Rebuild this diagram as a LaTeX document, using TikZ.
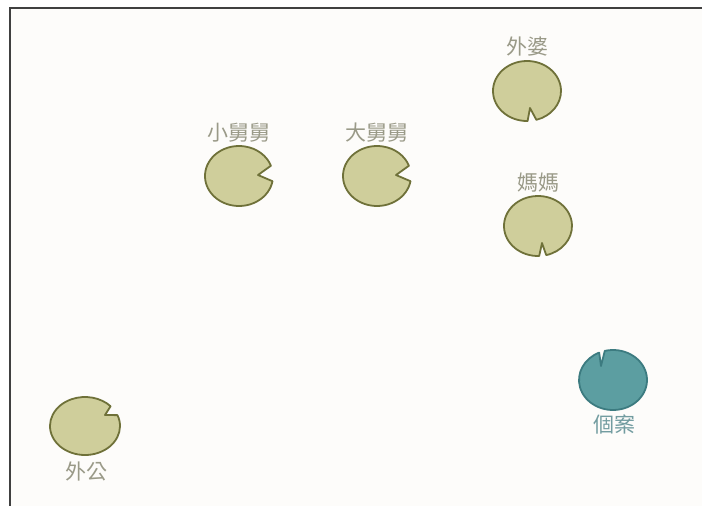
\documentclass[tikz,border=0pt]{standalone}
\usepackage{fontspec}
\newfontfamily\cjk{Noto Sans CJK TC}
\definecolor{pagebg}{HTML}{FDFCFA}
\definecolor{padfill}{HTML}{CFCE9B}
\definecolor{paddraw}{HTML}{6F7139}
\definecolor{casefill}{HTML}{5C9EA1}
\definecolor{casedraw}{HTML}{3C7B80}
\definecolor{lbltext}{HTML}{9A9A88}
\definecolor{casetext}{HTML}{729CA0}
\tikzset{
  pad/.style={fill=padfill, draw=paddraw, line width=1.8pt, line join=round},
  casepad/.style={fill=casefill, draw=casedraw, line width=1.8pt, line join=round},
  lbl/.style={text=lbltext, font=\cjk\fontsize{21}{21}\selectfont, inner sep=0pt},
  caselbl/.style={lbl, text=casetext}
}
\begin{document}
\begin{tikzpicture}[x=1pt, y=-1pt]
    \useasboundingbox (0,0) rectangle (702,506);
    % Marco
    \fill[white] (0,0) rectangle (702,506);
    \fill[pagebg] (10,8) rectangle (702,506);
    \draw[line width=1.5pt, black!75] (702,8) -- (10,8) -- (10,506);
    % Hojas
    \draw[pad, shift={(527,91)}] (89:34 and 30) arc[start angle=89, end angle=434, x radius=34, y radius=30] -- (3,17) -- cycle;
    \draw[pad, shift={(538,226)}] (88:34 and 30) arc[start angle=88, end angle=436, x radius=34, y radius=30] -- (4,17) -- cycle;
    \draw[pad, shift={(239,176)}] (10:34 and 30) arc[start angle=10, end angle=340, x radius=34, y radius=30] -- (19,-1) -- cycle;
    \draw[pad, shift={(377,176)}] (10:34 and 30) arc[start angle=10, end angle=340, x radius=34, y radius=30] -- (19,-1) -- cycle;
    \draw[pad, shift={(85,426)}] (-22:35 and 29) arc[start angle=-22, end angle=317, x radius=35, y radius=29] -- (20,-11) -- cycle;
    \draw[casepad, shift={(613,380)}] (-104:34 and 30) arc[start angle=-104, end angle=246, x radius=34, y radius=30] -- (-12,-14) -- cycle;
    % Nombres
    \node[lbl] (waipo) at (527,47) {外婆};
    \node[lbl] (mama) at (538,183) {媽媽};
    \node[lbl] (xiaojiu) at (239,133) {小舅舅};
    \node[lbl] (dajiu) at (377,133) {大舅舅};
    \node[lbl] (waigong) at (86,471) {外公};
    \node[caselbl] (gean) at (614,425) {個案};
\end{tikzpicture}
\end{document}
